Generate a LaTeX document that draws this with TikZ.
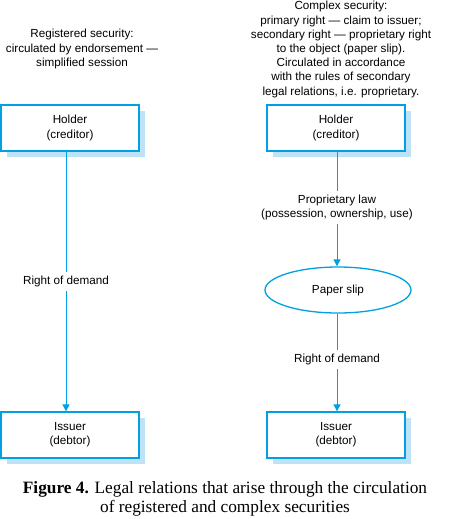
\documentclass[tikz,border=0pt]{standalone}
\usepackage{fontspec}
\setmainfont{Liberation Serif}
\newfontfamily\diagfont{Liberation Sans}
\usetikzlibrary{shapes.geometric,arrows.meta}
\definecolor{lineblue}{RGB}{0,160,227}
\definecolor{shadowblue}{RGB}{190,227,246}
\tikzset{
  x=1pt, y=-1pt,
  lbl/.style={font=\diagfont\fontsize{11.7}{14.2}\selectfont, align=center, inner sep=1pt},
  boxnode/.style={lbl, draw=lineblue, line width=1.3pt, fill=white, minimum width=138pt, minimum height=46pt, inner sep=0pt},
  ellnode/.style={lbl, ellipse, draw=lineblue, line width=1.3pt, fill=white, minimum width=146pt, minimum height=46pt, inner sep=0pt},
  conn/.style={draw=lineblue, line width=1pt, -{Triangle[length=7pt,width=7pt]}},
  gap/.style={lbl, fill=white, inner ysep=4pt},
  shadowbox/.style={fill=shadowblue}
}
\begin{document}
\begin{tikzpicture}
\useasboundingbox (0,0) rectangle (450,519);
% shadows
\fill[shadowbox] (7,111) rectangle (145,157);
\fill[shadowbox] (273,111) rectangle (411,157);
\fill[shadowbox] (7,418) rectangle (145,464);
\fill[shadowbox] (273,418) rectangle (411,464);
% top texts
\node[lbl] (ltxt) at (82,49) {Registered security:\\circulated by endorsement —\\simplified session};
\node[lbl] (rtxt) at (341,49.5) {Complex security:\\primary right — claim to issuer;\\secondary right — proprietary right\\to the object (paper slip).\\Circulated in accordance\\with the rules of secondary\\legal relations, i.e. proprietary.};
% boxes
\node[boxnode] (lh) at (70,128) {Holder\\(creditor)};
\node[boxnode] (rh) at (336,128) {Holder\\(creditor)};
\node[boxnode] (li) at (70,435) {Issuer\\(debtor)};
\node[boxnode] (ri) at (336,435) {Issuer\\(debtor)};
\node[ellnode] (ps) at (338,290) {Paper slip};
% connectors
\draw[conn] (lh.south -| 66,0) -- node[gap, pos=0.5] {Right of demand} (li.north -| 66,0);
\draw[conn] (rh.south -| 337,0) -- node[gap, pos=0.49] {Proprietary law\\(possession, ownership, use)} (ps.north -| 337,0);
\draw[conn] (ps.south -| 337,0) -- node[gap, pos=0.47] {Right of demand} (ri.north -| 337,0);
% caption
\node[font=\fontsize{17.3}{18.5}\selectfont, align=center, inner sep=0pt] (cap) at (225,499) {\textbf{Figure 4.} Legal relations that arise through the circulation\\of registered and complex securities};
\end{tikzpicture}
\end{document}
